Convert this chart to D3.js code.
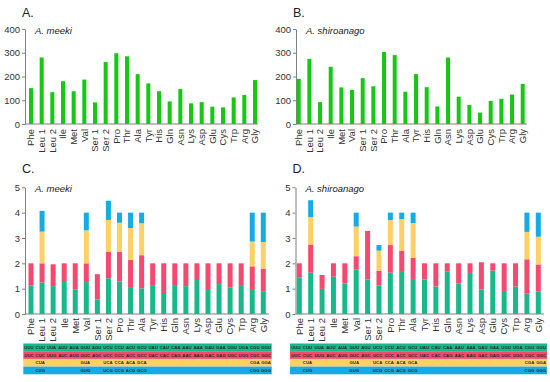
<!DOCTYPE html>
<html>
<head>
<meta charset="utf-8">
<script src="https://cdn.jsdelivr.net/npm/d3@7"></script>
<style>
  body { margin: 0; background: #fff; }
  svg { display: block; font-family: Arial, "Liberation Sans", sans-serif; }
</style>
</head>
<body>
<svg id="chart" width="550" height="382"></svg>
<script>
// amino acids on the x axis
var aminoAcids = ["Phe", "Leu 1", "Leu 2", "Ile", "Met", "Val", "Ser 1", "Ser 2", "Pro", "Thr", "Ala",
    "Tyr", "His", "Gln", "Asn", "Lys", "Asp", "Glu", "Cys", "Trp", "Arg", "Gly"]

// codon counts (panels A, B)
var countsMeeki = [151, 280, 134, 180, 138, 187, 91, 261, 298, 285, 210, 171, 138, 95, 147, 87, 92, 73, 70, 112, 122, 185]
var countsShiro = [190, 274, 92, 241, 154, 144, 193, 159, 303, 290, 136, 210, 155, 74, 280, 115, 80, 48, 97, 106, 124, 169]

// RSCU per codon, stacked in table row order (panels C, D)
var meekiC1 = [1.12, 1.24, 1.10, 1.30, 0.96, 1.26, 0.57, 1.41, 1.28, 1.03, 1.01, 1.14, 0.79, 1.14, 1.10, 1.34, 0.95, 1.18, 1.04, 1.14, 0.95, 0.90]
var meekiC2 = [0.88, 0.76, 0.86, 0.70, 1.04, 0.74, 1.00, 1.05, 1.17, 1.10, 1.31, 0.86, 1.21, 0.86, 0.90, 0.66, 1.05, 0.82, 0.96, 0.86, 0.93, 0.89]
var meekiC3 = [0, 1.25, 0, 0, 0, 1.30, 0, 1.25, 1.15, 1.26, 1.26, 0, 0, 0, 0, 0, 0, 0, 0, 0, 0.98, 1.05]
var meekiC4 = [0, 0.82, 0, 0, 0, 0.70, 0, 0.76, 0.40, 0.61, 0.42, 0, 0, 0, 0, 0, 0, 0, 0, 0, 1.14, 1.16]

var shiroC1 = [1.45, 1.63, 0.99, 1.47, 1.20, 1.75, 1.36, 1.13, 1.63, 1.66, 1.38, 1.36, 1.09, 1.67, 1.20, 1.62, 0.97, 1.71, 0.91, 1.09, 0.80, 0.88]
var shiroC2 = [0.55, 1.11, 0.55, 0.53, 0.80, 0.53, 1.92, 0.58, 1.09, 0.84, 0.83, 0.64, 0.91, 0.33, 0.80, 0.38, 1.07, 0.29, 1.09, 0.91, 1.36, 1.07]
var shiroC3 = [0, 1.08, 0, 0, 0, 1.17, 0, 0.79, 0.99, 1.24, 1.38, 0, 0, 0, 0, 0, 0, 0, 0, 0, 1.08, 1.10]
var shiroC4 = [0, 0.67, 0, 0, 0, 0.55, 0, 0.22, 0.29, 0.26, 0.41, 0, 0, 0, 0, 0, 0, 0, 0, 0, 0.76, 0.95]

// codon table under panels C and D
var codonRow1 = ["UUU", "CUU", "UUA", "AUU", "AUA", "GUU", "AGU", "UCU", "CCU", "ACU", "GCU", "UAU", "CAU", "CAA", "AAU", "AAA", "GAU", "GAA", "UGU", "UGA", "CGU", "GGU"]
var codonRow2 = ["UUC", "CUC", "UUG", "AUC", "AUG", "GUC", "AGC", "UCC", "CCC", "ACC", "GCC", "UAC", "CAC", "CAG", "AAC", "AAG", "GAC", "GAG", "UGC", "UGG", "CGC", "GGC"]
var codonRow3 = ["", "CUA", "", "", "", "GUA", "", "UCA", "CCA", "ACA", "GCA", "", "", "", "", "", "", "", "", "", "CGA", "GGA"]
var codonRow4 = ["", "CUG", "", "", "", "GUG", "", "UCG", "CCG", "ACG", "GCG", "", "", "", "", "", "", "", "", "", "CGG", "GGG"]

var stackColors = ["#17b98b", "#f7486f", "#ffd066", "#14ace2"]
var barGreen = "#14c814"
var axisColor = "#808080"
var textColor = "#333"

var svg = d3.select("#chart")

function panel(p) {
    var g = svg.append("g")
    var x = d3.scalePoint().domain(aminoAcids).range([p.first, p.last])
    var y = d3.scaleLinear().domain([0, p.ymax]).range([p.bottom, p.top])

    // y axis
    var yAxis = g.append("g")
        .attr("transform", `translate(${p.left},0)`)
        .call(d3.axisLeft(y).ticks(p.ymax > 10 ? 4 : 5).tickSize(3).tickSizeOuter(0).tickPadding(2))
    yAxis.select(".domain").attr("stroke", axisColor)
    yAxis.selectAll(".tick line").attr("stroke", axisColor)
    yAxis.selectAll(".tick text").attr("fill", textColor).style("font-size", "9.5px")

    // x axis line
    g.append("line")
        .attr("x1", p.left).attr("x2", p.right)
        .attr("y1", p.bottom).attr("y2", p.bottom)
        .attr("stroke", axisColor)

    g.selectAll(".xlab")
        .data(aminoAcids)
        .enter().append("text")
        .attr("class", "xlab")
        .attr("transform", d => `translate(${x(d)},${p.bottom + p.labOff}) rotate(-90)`)
        .attr("text-anchor", "end")
        .attr("dy", "0.35em")
        .attr("fill", textColor)
        .style("font-size", "9.5px")
        .text(d => d)

    g.append("text")
        .attr("x", p.left - 3).attr("y", p.letterY)
        .style("font-size", "12.5px")
        .attr("fill", "#222")
        .text(p.letter)

    g.append("text")
        .attr("x", p.left + 10).attr("y", p.top + 5)
        .style("font-size", "9.5px")
        .style("font-style", "italic")
        .attr("fill", "#222")
        .text(p.species)

    if (p.counts) {
        g.selectAll(".bar")
            .data(p.counts)
            .enter().append("rect")
            .attr("x", (d, i) => x(aminoAcids[i]) - p.bw / 2)
            .attr("width", p.bw)
            .attr("y", d => y(d))
            .attr("height", d => p.bottom - y(d))
            .attr("fill", barGreen)
    } else {
        var rows = aminoAcids.map(function (a, i) {
            var o = { aa: a }
            p.rscu.forEach(function (s, k) { o["c" + k] = s[i] })
            return o
        })
        var keys = ["c0", "c1", "c2", "c3"]
        var stack = d3.stack().keys(keys)(rows)
        g.selectAll(".layer")
            .data(stack)
            .enter().append("g")
            .attr("fill", (d, i) => stackColors[i])
            .selectAll("rect")
            .data(d => d.filter(e => e[1] - e[0] > 0))
            .enter().append("rect")
            .attr("x", d => x(d.data.aa) - p.bw / 2)
            .attr("width", p.bw)
            .attr("y", d => y(d[1]))
            .attr("height", d => y(d[0]) - y(d[1]))

        // codon table
        var tx = d3.scaleBand().domain(aminoAcids).range([p.tableX0, p.tableX1])
        var rowH = 7.7
        var tableRows = [codonRow1, codonRow2, codonRow3, codonRow4]
        tableRows.forEach(function (codons, r) {
            var ry = p.tableY + r * rowH
            g.append("rect")
                .attr("x", p.tableX0).attr("y", ry)
                .attr("width", p.tableX1 - p.tableX0).attr("height", rowH)
                .attr("fill", stackColors[r])
            g.selectAll(".cod" + r)
                .data(codons)
                .enter().append("text")
                .attr("x", (d, i) => tx(aminoAcids[i]) + tx.bandwidth() / 2)
                .attr("y", ry + rowH / 2)
                .attr("dy", "0.35em")
                .attr("text-anchor", "middle")
                .attr("fill", "#2a2a2a")
                .style("font-size", "4.3px")
                .style("font-weight", "bold")
                .text(d => d)
        })
    }
}

panel({ letter: "A.", species: "A. meeki", counts: countsMeeki, ymax: 400,
    left: 25, right: 258, first: 31, last: 255, top: 29, bottom: 124, bw: 4, labOff: 5, letterY: 17 })
panel({ letter: "B.", species: "A. shiroanago", counts: countsShiro, ymax: 400,
    left: 296, right: 527, first: 298.7, last: 522.7, top: 29, bottom: 124, bw: 4, labOff: 5, letterY: 17 })
panel({ letter: "C.", species: "A. meeki", rscu: [meekiC1, meekiC2, meekiC3, meekiC4], ymax: 5,
    left: 25, right: 269, first: 31, last: 263.3, top: 187.3, bottom: 314, bw: 5, labOff: 4, letterY: 173,
    tableX0: 23.3, tableX1: 271.7, tableY: 343.5 })
panel({ letter: "D.", species: "A. shiroanago", rscu: [shiroC1, shiroC2, shiroC3, shiroC4], ymax: 5,
    left: 295.5, right: 544, first: 299.3, last: 538.3, top: 187.3, bottom: 314, bw: 5, labOff: 4, letterY: 173,
    tableX0: 290, tableX1: 547, tableY: 343.5 })
</script>
</body>
</html>
